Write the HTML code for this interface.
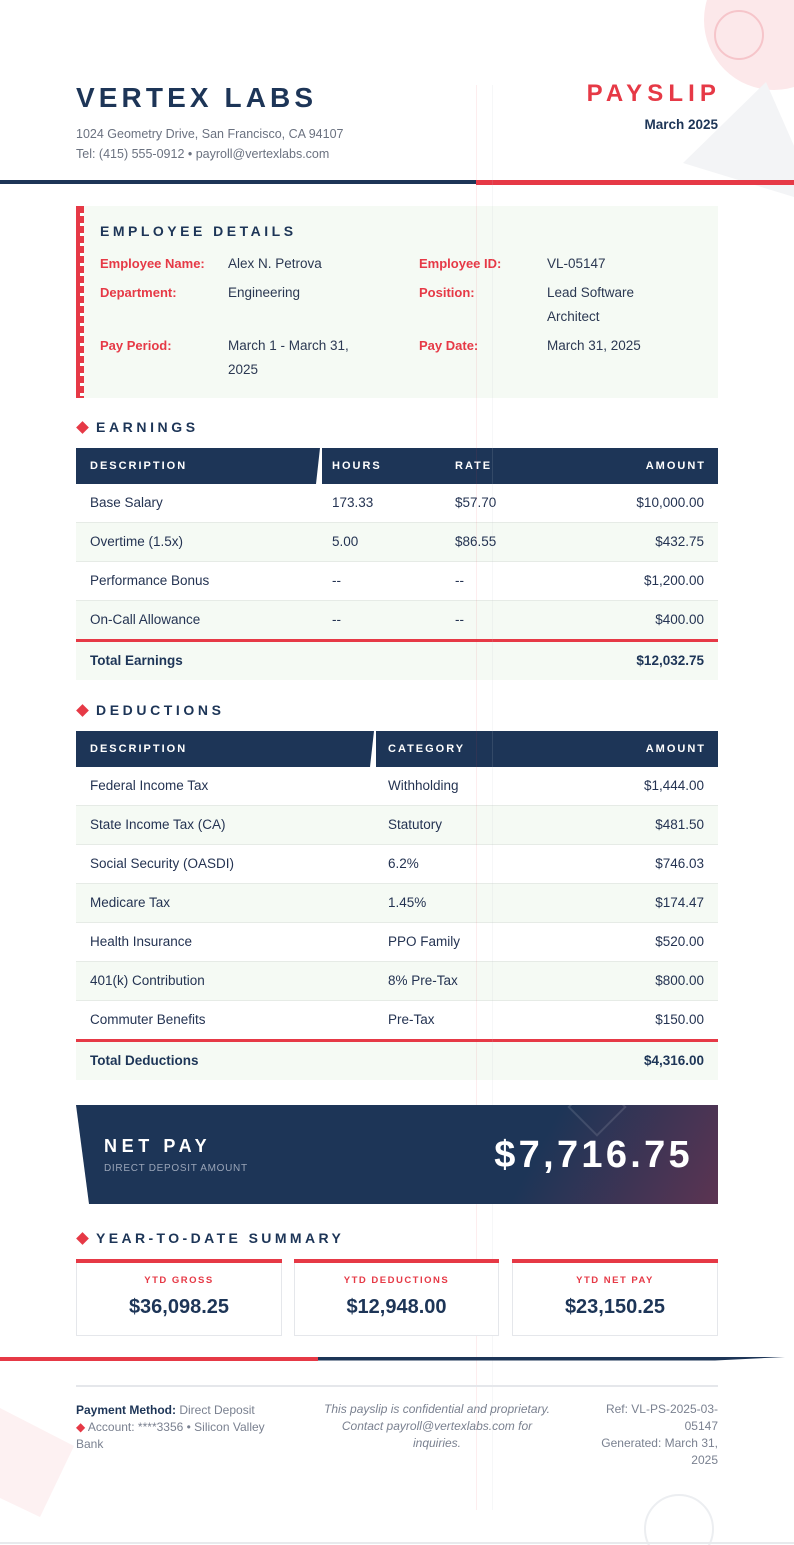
<!DOCTYPE html>
<html><head><meta charset="utf-8">
<style>
*{margin:0;padding:0;box-sizing:border-box}
html,body{width:794px;height:1545px;background:#fff;overflow:hidden}
body{position:relative;font-family:"Liberation Sans",Arial,sans-serif;color:#243352}
.a{position:absolute;white-space:nowrap}
.h2{position:absolute;left:96px;font-weight:bold;font-size:14px;letter-spacing:3.6px;color:#1d3557;line-height:16px}
.dia{position:absolute;left:78px;width:9px;height:9px;background:#e63946;transform:rotate(45deg)}
.tbl{position:absolute;left:76px;width:642px}
.th{position:absolute;top:0;height:36px;background:#1d3557}
.thx{position:absolute;top:0;line-height:36px;font-size:11px;font-weight:bold;color:#fff;letter-spacing:2px;white-space:nowrap}
.row{position:absolute;left:0;width:642px;height:39px;border-bottom:1px solid #e6ebe6;font-size:13.5px;line-height:38px;color:#243352}
.row.g{background:#f5faf4}
.row span{position:absolute;top:0;white-space:nowrap}
.row .r{right:14px}
.tot{position:absolute;left:0;width:642px;height:38px;background:#f5faf4;font-weight:bold;font-size:13.5px;line-height:38px;color:#1d3557}
.tot span{position:absolute;top:0}
.redl{position:absolute;left:0;width:642px;height:3px;background:#e63946}
.lbl{position:absolute;font-weight:bold;font-size:13px;color:#e63946;line-height:24px;white-space:nowrap}
.val{position:absolute;font-size:13.5px;color:#2b3852;line-height:24px;white-space:nowrap}
.card{position:absolute;top:1259px;height:77px;border:1px solid #e5e7eb;border-top:none;background:#fff}
.card:before{content:"";position:absolute;left:-1px;right:-1px;top:0;height:4px;background:#e63946}
.card .l{position:absolute;left:0;right:0;top:15px;text-align:center;font-size:9.5px;font-weight:bold;letter-spacing:1.5px;color:#e63946;line-height:14px}
.card .v{position:absolute;left:0;right:0;top:36px;text-align:center;font-size:20px;font-weight:bold;color:#1d3557;line-height:24px}
.ft{position:absolute;font-size:12px;line-height:17px;color:#7a8190;white-space:nowrap}
</style></head>
<body>

<!-- top right decorations -->
<div class="a" style="left:704px;top:-50px;width:140px;height:140px;border-radius:50%;background:#fce8ea"></div>
<div class="a" style="left:714px;top:10px;width:50px;height:50px;border-radius:50%;border:2.5px solid #f6c5ca"></div>
<svg class="a" style="left:0;top:0" width="794" height="200"><polygon points="766,82 683,163 820,205" fill="#f3f4f6"/></svg>

<!-- bottom-left decoration -->
<svg class="a" style="left:0;top:1380px" width="120" height="160"><polygon points="0,28 74,66 40,137 0,118" fill="#fdf1f2"/></svg>
<div class="a" style="left:644px;top:1494px;width:70px;height:70px;border-radius:50%;border:2px solid #eceef1"></div>

<!-- header -->
<div class="a" style="left:76px;top:83px;font-size:28px;font-weight:bold;letter-spacing:4.1px;color:#1d3557;line-height:30px">VERTEX LABS</div>
<div class="a" style="left:76px;top:124px;font-size:12.5px;color:#6b7280;line-height:20px">1024 Geometry Drive, San Francisco, CA 94107</div>
<div class="a" style="left:76px;top:144px;font-size:12.5px;color:#6b7280;line-height:20px">Tel: (415) 555-0912 • payroll@vertexlabs.com</div>
<div class="a" style="right:73px;top:81px;font-size:24px;font-weight:bold;letter-spacing:5.1px;color:#e63946;line-height:26px">PAYSLIP</div>
<div class="a" style="right:76px;top:117px;font-size:13.5px;font-weight:bold;color:#1d3557;line-height:16px">March 2025</div>

<div class="a" style="left:0;top:180px;width:476px;height:4px;background:#1d3557"></div>
<div class="a" style="left:476px;top:180px;width:318px;height:5px;background:#e63946"></div>

<!-- employee details -->
<div class="a" style="left:76px;top:206px;width:642px;height:192px;background:#f5faf4"></div>
<div class="a" style="left:76px;top:206px;width:4px;height:192px;background:#e63946"></div>
<div class="a" style="left:80px;top:206px;width:4px;height:192px;background:repeating-linear-gradient(to bottom,#e63946 0,#e63946 7px,#ffffff 7px,#ffffff 10px)"></div>

<div class="a" style="left:100px;top:223px;font-size:14px;font-weight:bold;letter-spacing:3.5px;color:#1d3557;line-height:16px">EMPLOYEE DETAILS</div>

<div class="lbl" style="left:100px;top:252px">Employee Name:</div>
<div class="val" style="left:228px;top:252px">Alex N. Petrova</div>
<div class="lbl" style="left:419px;top:252px">Employee ID:</div>
<div class="val" style="left:547px;top:252px">VL-05147</div>

<div class="lbl" style="left:100px;top:281px">Department:</div>
<div class="val" style="left:228px;top:281px">Engineering</div>
<div class="lbl" style="left:419px;top:281px">Position:</div>
<div class="val" style="left:547px;top:281px">Lead Software<br>Architect</div>

<div class="lbl" style="left:100px;top:334px">Pay Period:</div>
<div class="val" style="left:228px;top:334px">March 1 - March 31,<br>2025</div>
<div class="lbl" style="left:419px;top:334px">Pay Date:</div>
<div class="val" style="left:547px;top:334px">March 31, 2025</div>

<!-- earnings -->
<div class="dia" style="top:423px"></div>
<div class="h2" style="top:419px">EARNINGS</div>

<div class="tbl" style="top:448px;height:232px">
  <div class="th" style="left:0;width:244px;clip-path:polygon(0 0,100% 0,calc(100% - 4px) 100%,0 100%)"></div>
  <div class="th" style="left:246px;width:396px"></div>
  <div class="thx" style="left:14px">DESCRIPTION</div>
  <div class="thx" style="left:256px">HOURS</div>
  <div class="thx" style="left:379px">RATE</div>
  <div class="thx" style="right:12px">AMOUNT</div>

  <div class="row" style="top:36px"><span style="left:14px">Base Salary</span><span style="left:256px">173.33</span><span style="left:379px">$57.70</span><span class="r">$10,000.00</span></div>
  <div class="row g" style="top:75px"><span style="left:14px">Overtime (1.5x)</span><span style="left:256px">5.00</span><span style="left:379px">$86.55</span><span class="r">$432.75</span></div>
  <div class="row" style="top:114px"><span style="left:14px">Performance Bonus</span><span style="left:256px">--</span><span style="left:379px">--</span><span class="r">$1,200.00</span></div>
  <div class="row g" style="top:153px;border-bottom:none"><span style="left:14px">On-Call Allowance</span><span style="left:256px">--</span><span style="left:379px">--</span><span class="r">$400.00</span></div>
  <div class="redl" style="top:191px"></div>
  <div class="tot" style="top:194px"><span style="left:14px">Total Earnings</span><span style="right:14px">$12,032.75</span></div>
</div>

<!-- deductions -->
<div class="dia" style="top:706px"></div>
<div class="h2" style="top:702px">DEDUCTIONS</div>

<div class="tbl" style="top:731px;height:349px">
  <div class="th" style="left:0;width:298px;clip-path:polygon(0 0,100% 0,calc(100% - 4px) 100%,0 100%)"></div>
  <div class="th" style="left:300px;width:342px"></div>
  <div class="thx" style="left:14px">DESCRIPTION</div>
  <div class="thx" style="left:312px">CATEGORY</div>
  <div class="thx" style="right:12px">AMOUNT</div>

  <div class="row" style="top:36px"><span style="left:14px">Federal Income Tax</span><span style="left:312px">Withholding</span><span class="r">$1,444.00</span></div>
  <div class="row g" style="top:75px"><span style="left:14px">State Income Tax (CA)</span><span style="left:312px">Statutory</span><span class="r">$481.50</span></div>
  <div class="row" style="top:114px"><span style="left:14px">Social Security (OASDI)</span><span style="left:312px">6.2%</span><span class="r">$746.03</span></div>
  <div class="row g" style="top:153px"><span style="left:14px">Medicare Tax</span><span style="left:312px">1.45%</span><span class="r">$174.47</span></div>
  <div class="row" style="top:192px"><span style="left:14px">Health Insurance</span><span style="left:312px">PPO Family</span><span class="r">$520.00</span></div>
  <div class="row g" style="top:231px"><span style="left:14px">401(k) Contribution</span><span style="left:312px">8% Pre-Tax</span><span class="r">$800.00</span></div>
  <div class="row" style="top:270px;border-bottom:none"><span style="left:14px">Commuter Benefits</span><span style="left:312px">Pre-Tax</span><span class="r">$150.00</span></div>
  <div class="redl" style="top:308px"></div>
  <div class="tot" style="top:311px"><span style="left:14px">Total Deductions</span><span style="right:14px">$4,316.00</span></div>
</div>

<!-- faint vertical lines -->
<div class="a" style="left:476px;top:85px;width:1px;height:1425px;background:rgba(230,57,70,0.09)"></div>
<div class="a" style="left:492px;top:85px;width:1px;height:1425px;background:rgba(190,195,205,0.14)"></div>

<!-- net pay -->
<div class="a" style="left:76px;top:1105px;width:642px;height:99px;clip-path:polygon(0 0,100% 0,100% 100%,13px 100%);background:linear-gradient(118deg,#1d3557 0%,#1d3557 70%,#5c3452 100%);overflow:hidden">
  <div style="position:absolute;left:500px;top:-19px;width:42px;height:42px;border:2px solid rgba(255,255,255,0.12);transform:rotate(45deg)"></div>
  <div style="position:absolute;left:28px;top:31px;font-size:18px;font-weight:bold;letter-spacing:4.6px;color:#fff;line-height:20px;white-space:nowrap">NET PAY</div>
  <div style="position:absolute;left:28px;top:58px;font-size:10px;letter-spacing:0.7px;color:#9aa5b8;line-height:12px;white-space:nowrap">DIRECT DEPOSIT AMOUNT</div>
  <div style="position:absolute;right:25px;top:28px;font-size:38px;font-weight:bold;letter-spacing:3.3px;color:#fff;line-height:44px;white-space:nowrap">$7,716.75</div>
</div>

<!-- ytd -->
<div class="dia" style="top:1234px"></div>
<div class="h2" style="top:1230px;letter-spacing:3.4px">YEAR-TO-DATE SUMMARY</div>

<div class="card" style="left:76px;width:206px"><div class="l">YTD GROSS</div><div class="v">$36,098.25</div></div>
<div class="card" style="left:294px;width:205px"><div class="l">YTD DEDUCTIONS</div><div class="v">$12,948.00</div></div>
<div class="card" style="left:512px;width:206px"><div class="l">YTD NET PAY</div><div class="v">$23,150.25</div></div>

<!-- bottom divider -->
<div class="a" style="left:0;top:1357px;width:318px;height:3.5px;background:#e63946"></div>
<div class="a" style="left:318px;top:1357px;width:467px;height:3.5px;background:#1d3557;clip-path:polygon(0 0,100% 0,85% 100%,0 100%)"></div>

<!-- footer -->
<div class="a" style="left:76px;top:1385px;width:642px;height:2px;background:#e5e7eb"></div>

<div class="ft" style="left:76px;top:1402px;width:230px">
  <span style="font-weight:bold;color:#1d3557">Payment Method:</span> Direct Deposit<br>
  <span style="color:#e63946">◆</span> Account: ****3356 • Silicon Valley<br>
  Bank
</div>
<div class="ft" style="left:300px;top:1401px;width:274px;text-align:center;font-style:italic">
  This payslip is confidential and proprietary.<br>
  Contact payroll@vertexlabs.com for<br>
  inquiries.
</div>
<div class="ft" style="left:568px;top:1401px;width:150px;text-align:right">
  Ref: VL-PS-2025-03-<br>
  05147<br>
  Generated: March 31,<br>
  2025
</div>

<div class="a" style="left:0;top:1542px;width:794px;height:2px;background:#e8eaed"></div>

</body></html>
